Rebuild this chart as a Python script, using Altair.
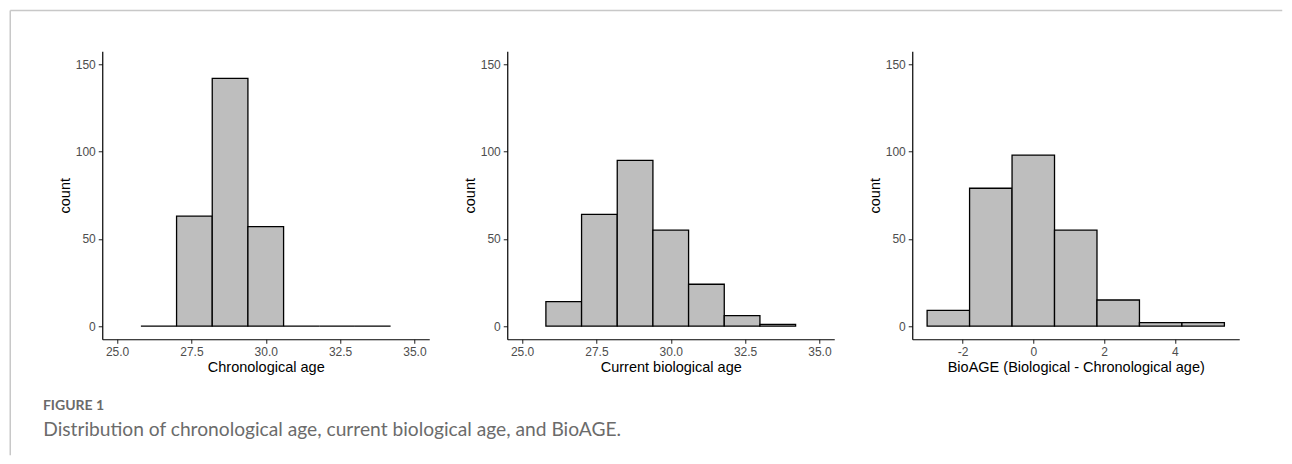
import altair as alt
import pandas as pd

# ---- data ----
chrono_edges = [25.8, 27.0, 28.2, 29.4, 30.6, 31.8, 33.0, 34.2]
chrono_counts = [0, 63, 142, 57, 0, 0, 0]

bio_edges = [25.8, 27.0, 28.2, 29.4, 30.6, 31.8, 33.0, 34.2]
bio_counts = [14, 64, 95, 55, 24, 6, 1]

bioage_edges = [-3.0, -1.8, -0.6, 0.6, 1.8, 3.0, 4.2, 5.4]
bioage_counts = [9, 79, 98, 55, 15, 2, 2]

age_ticks = [25.0, 27.5, 30.0, 32.5, 35.0]
bioage_ticks = [-2, 0, 2, 4]
count_ticks = [0, 50, 100, 150]

x_titles = ["Chronological age", "Current biological age",
            "BioAGE (Biological - Chronological age)"]
caption_label = "FIGURE 1"
caption_text = "Distribution of chronological age, current biological age, and BioAGE."

W, H = 327, 288
AXIS_FONT = "Liberation Sans"


def panel(edges, counts, domain, ticks, title, label_expr):
    df = pd.DataFrame({"start": edges[:-1], "end": edges[1:], "count": counts})
    return alt.Chart(df).mark_rect(
        fill="#bebebe", stroke="#000000", strokeWidth=1.3
    ).encode(
        x=alt.X("start:Q",
                scale=alt.Scale(domain=domain, nice=False, zero=False),
                axis=alt.Axis(values=ticks, title=title, labelExpr=label_expr)),
        x2="end:Q",
        y=alt.Y("count:Q",
                scale=alt.Scale(domain=[-7.5, 157.5], nice=False, zero=False),
                axis=alt.Axis(values=count_ticks, title="count")),
        y2=alt.datum(0),
    )


one = pd.DataFrame({"k": [0]})

frame_top = alt.Chart(one).mark_rule(color="#c8c8c8", strokeWidth=1.5).encode(
    x=alt.value(-92), x2=alt.value(1180), y=alt.value(-40.7))
frame_left = alt.Chart(one).mark_rule(color="#c8c8c8", strokeWidth=1.5).encode(
    x=alt.value(-92), y=alt.value(-40.7), y2=alt.value(404))

fig_label = alt.Chart(one).mark_text(
    align="left", baseline="alphabetic", font="Lato", fontSize=14,
    fontWeight="bold", color="#6a6a6a"
).encode(x=alt.value(-59.3), y=alt.value(358.6), text=alt.value(caption_label))

fig_caption = alt.Chart(one).mark_text(
    align="left", baseline="alphabetic", font="Lato", fontSize=19.2,
    fontWeight="normal", color="#6b6b6b"
).encode(x=alt.value(-59), y=alt.value(384.8), text=alt.value(caption_text))

p1 = alt.layer(
    panel(chrono_edges, chrono_counts, [24.5, 35.5], age_ticks, x_titles[0],
          "format(datum.value, '.1f')"),
    frame_top, frame_left, fig_label, fig_caption
).properties(width=W, height=H)

p2 = panel(bio_edges, bio_counts, [24.5, 35.5], age_ticks, x_titles[1],
           "format(datum.value, '.1f')").properties(width=W, height=H)

p3 = panel(bioage_edges, bioage_counts, [-3.42, 5.82], bioage_ticks, x_titles[2],
           "'' + datum.value").properties(width=W, height=H)

chart = alt.hconcat(p1, p2, p3, spacing=78, bounds="flush").properties(
    padding={"left": 1.25, "top": 1.25, "right": 0, "bottom": 0},
    background="white",
).configure_view(stroke=None).configure_axis(
    grid=False,
    domainColor="#000000",
    domainWidth=1.2,
    tickColor="#333333",
    tickWidth=1.1,
    tickSize=4,
    labelColor="#4d4d4d",
    labelFont=AXIS_FONT,
    labelFontSize=12,
    labelPadding=3,
    titleFont=AXIS_FONT,
    titleFontSize=14.5,
    titleFontWeight="normal",
    titleColor="#000000",
).configure_axisX(titlePadding=3, labelPadding=3.5).configure_axisY(titlePadding=3)

chart.save("out.html", embed_options={"renderer": "svg", "actions": False})
